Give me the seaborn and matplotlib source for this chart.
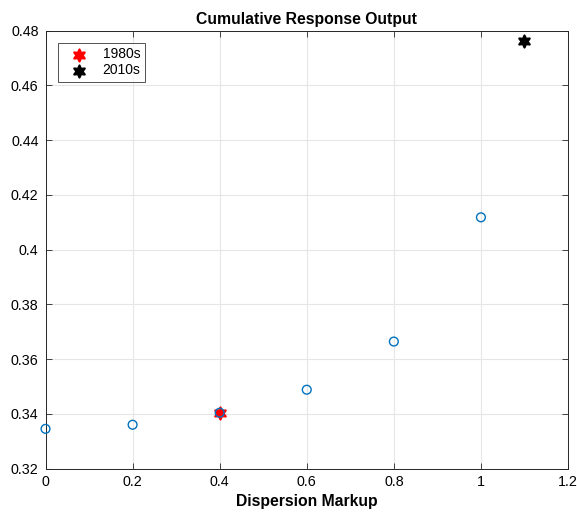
import matplotlib
matplotlib.use("Agg")
import matplotlib.pyplot as plt
import seaborn as sns
import pandas as pd
from matplotlib.ticker import FuncFormatter, MultipleLocator

markup = [0.0, 0.2, 0.4, 0.6, 0.8, 1.0]
response = [0.3345, 0.3360, 0.3404, 0.3488, 0.3664, 0.4118]
era_labels = ["1980s", "2010s"]
era_markup = [0.4, 1.1]
era_response = [0.3404, 0.4761]
era_colors = ["#ff0000", "#000000"]

sns.set_theme(style="white")
plt.rcParams['font.family'] = ['Liberation Sans', 'DejaVu Sans']
plt.rcParams['text.color'] = 'black'

fig = plt.figure(figsize=(5.77, 5.16), dpi=100)
ax = fig.add_axes([0.0789, 0.092, 0.9844 - 0.0789, 0.9405 - 0.092])

star = (6, 1, 0)
for lab, xv, yv, c in zip(era_labels, era_markup, era_response, era_colors):
    sns.scatterplot(x=[xv], y=[yv], ax=ax, marker=star, s=75, color=c,
                    edgecolor=c, linewidth=1.6, label=lab, zorder=4)

df = pd.DataFrame({"x": markup, "y": response})
sns.scatterplot(data=df, x="x", y="y", ax=ax, marker="o", s=40,
                facecolor="none", edgecolor="#0072BD", linewidth=1.0,
                zorder=5, clip_on=False)

ax.set_xlim(0, 1.2)
ax.set_ylim(0.32, 0.48)
ax.xaxis.set_major_locator(MultipleLocator(0.2))
ax.yaxis.set_major_locator(MultipleLocator(0.02))
fmt = FuncFormatter(lambda v, p: f"{v:.10g}" if abs(v) > 1e-9 else "0")
ax.xaxis.set_major_formatter(fmt)
ax.yaxis.set_major_formatter(fmt)
ax.grid(True, color="#e6e6e6", linewidth=0.8)
ax.set_axisbelow(True)
for s in ax.spines.values():
    s.set_color("#262626")
    s.set_linewidth(0.7)
ax.tick_params(direction="in", length=4, width=0.6, color="#262626",
               labelsize=10.3, labelcolor="#000000", top=True, right=True,
               bottom=True, left=True, labeltop=False, labelright=False, pad=5)
ax.set_xlabel("Dispersion Markup", fontsize=11.3, fontweight="bold",
              labelpad=3, color="black")
ax.set_ylabel("")
ax.set_title("Cumulative Response Output", fontsize=11.3, fontweight="bold",
             pad=5, color="black")

leg = ax.legend(loc="upper left", bbox_to_anchor=(0.023, 0.973), frameon=True,
                fancybox=False, edgecolor="#262626", fontsize=10,
                handletextpad=0.5, handlelength=2.4, borderpad=0.35,
                labelspacing=0.15, borderaxespad=0.0, markerscale=1.0)
leg.get_frame().set_linewidth(0.7)
for t in leg.get_texts():
    t.set_color("black")

fig.savefig("out.png", dpi=100)
